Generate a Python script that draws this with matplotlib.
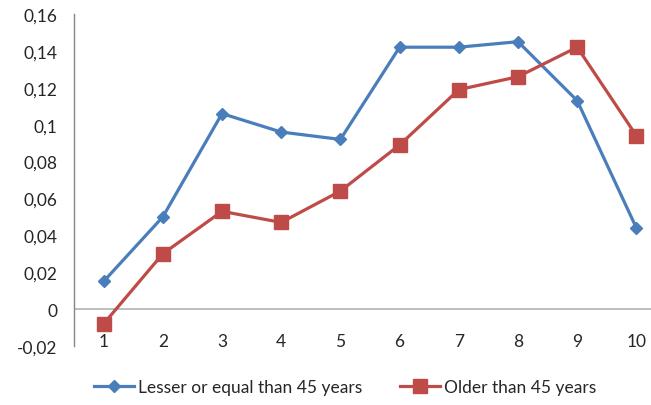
import matplotlib.pyplot as plt
import matplotlib.transforms as mtransforms

plt.rcParams['font.family'] = ['Lato', 'DejaVu Sans']

categories = [1, 2, 3, 4, 5, 6, 7, 8, 9, 10]
young = [0.015, 0.050, 0.106, 0.096, 0.092, 0.142, 0.142, 0.145, 0.113, 0.044]
old = [-0.008, 0.030, 0.053, 0.047, 0.064, 0.089, 0.119, 0.126, 0.142, 0.094]
yticks = [-0.02, 0, 0.02, 0.04, 0.06, 0.08, 0.1, 0.12, 0.14, 0.16]
ytick_labels = ['-0,02', '0', '0,02', '0,04', '0,06', '0,08', '0,1', '0,12', '0,14', '0,16']

blue = '#4A7EBB'
red = '#BE4B48'
fs = 12.5

fig = plt.figure(figsize=(6.51, 4.06), dpi=100)
# plot area runs off the right edge like in the original
ax = fig.add_axes([74/651, 59/406, 592/651, 332/406])

ax.plot(categories, young, color=blue, lw=2.3, marker='D', ms=6.5,
        label='Lesser or equal than 45 years', zorder=3)
ax.plot(categories, old, color=red, lw=2.3, marker='s', ms=9.5,
        label='Older than 45 years', zorder=3)

ax.set_xlim(0.5, 10.5)
ax.set_ylim(-0.02, 0.16)
ax.axhline(0, color='#BEBEBE', lw=1.4, zorder=1)

for s in ['top', 'right', 'bottom']:
    ax.spines[s].set_visible(False)
ax.spines['left'].set_color('#868686')
ax.spines['left'].set_linewidth(1.0)

ax.set_yticks(yticks)
ax.set_yticklabels(ytick_labels)
ax.tick_params(axis='y', length=0, pad=12, labelsize=fs, colors='#262626')
ax.set_xticks([])

trans = mtransforms.blended_transform_factory(ax.transData, ax.transAxes)
for c in categories:
    ax.text(c, 0.016, str(c), transform=trans, ha='center', va='center',
            fontsize=fs, color='#262626')

fig.legend(loc='center', bbox_to_anchor=(0.53, 0.044), ncol=2, frameon=False,
           fontsize=fs, handlelength=2.3, handletextpad=0.23, columnspacing=2.2,
           labelcolor='#262626')

fig.savefig('out.png', dpi=100)
